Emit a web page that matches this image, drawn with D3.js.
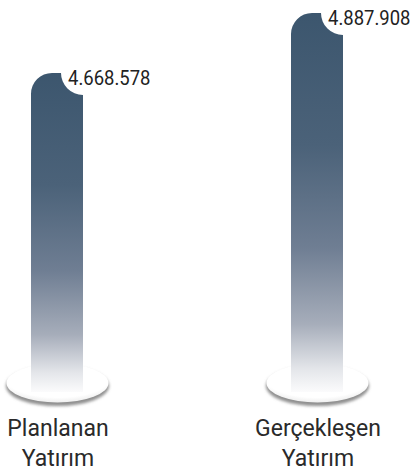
<!DOCTYPE html>
<html>
<head>
<meta charset="utf-8">
<script src="https://cdn.jsdelivr.net/npm/d3@7"></script>
<style>
  html, body { margin: 0; padding: 0; background: #ffffff; }
  svg { display: block; }
</style>
</head>
<body>
<svg id="chart" width="417" height="472"></svg>
<script>
// ---- data ----
const categories = ["Planlanan Yatırım", "Gerçekleşen Yatırım"];
const categoryLines = [["Planlanan", "Yatırım"], ["Gerçekleşen", "Yatırım"]];
const values = [4668578, 4887908];
const yDomain = [3500000, 4887908];

// ---- layout ----
const svg = d3.select("#chart");
const defs = svg.append("defs");

const x = d3.scaleBand()
  .domain(categories)
  .range([5, 369])
  .paddingInner(0.8)
  .paddingOuter(0.1);

const y = d3.scaleLinear()
  .domain(yDomain)
  .range([392, 13]);

const trFmt = d3.formatLocale({ decimal: ",", thousands: ".", grouping: [3], currency: ["₺", ""] }).format(",d");

// gradient for bars
const grad = defs.append("linearGradient")
  .attr("id", "barGrad").attr("x1", 0).attr("y1", 0).attr("x2", 0).attr("y2", 1);
[[0, "#3c566e"], [0.35, "#4b6279"], [0.62, "#6f7e93"], [0.82, "#a6adba"], [0.94, "#e4e6ea"], [1, "#fbfbfc"]]
  .forEach(([o, c]) => grad.append("stop").attr("offset", o).attr("stop-color", c));

// blur for plate shadow
defs.append("filter").attr("id", "blur").attr("x", "-20%").attr("y", "-50%").attr("width", "140%").attr("height", "200%")
  .append("feGaussianBlur").attr("stdDeviation", 1.8);

const plateGrad = defs.append("radialGradient")
  .attr("id", "plateGrad").attr("cx", "50%").attr("cy", "35%").attr("r", "65%");
[[0, "#ffffff"], [0.8, "#ffffff"], [1, "#eeeeee"]]
  .forEach(([o, c]) => plateGrad.append("stop").attr("offset", o).attr("stop-color", c));

const plateCy = 383, plateRx = 51.5, plateRy = 20;

const g = svg.append("g");

// plates
const plates = g.selectAll("g.plate").data(categories).join("g").attr("class", "plate");
plates.append("ellipse")
  .attr("cx", d => x(d) + x.bandwidth() / 2 + 0.5)
  .attr("cy", plateCy + 3)
  .attr("rx", plateRx)
  .attr("ry", plateRy)
  .attr("fill", "#8f8f8f")
  .attr("filter", "url(#blur)");
plates.append("ellipse")
  .attr("cx", d => x(d) + x.bandwidth() / 2 + 0.5)
  .attr("cy", plateCy)
  .attr("rx", plateRx - 0.5)
  .attr("ry", plateRy - 0.5)
  .attr("fill", "url(#plateGrad)");

// bars
const r1 = 21, r2 = 22;
function barPath(x0, x1, top, bot) {
  return `M${x0},${bot} L${x0},${top + r1} A${r1},${r1} 0 0 1 ${x0 + r1},${top} ` +
         `L${x1 - r2},${top} A${r2},${r2} 0 0 0 ${x1},${top + r2} L${x1},${bot} Z`;
}
g.selectAll("path.bar").data(values).join("path")
  .attr("class", "bar")
  .attr("d", (v, i) => {
    const x0 = x(categories[i]);
    return barPath(x0, x0 + x.bandwidth(), y(v), y(yDomain[0]));
  })
  .attr("fill", "url(#barGrad)");

// value labels (horizontally condensed)
g.selectAll("text.val").data(values).join("text")
  .attr("class", "val")
  .attr("transform", (v, i) => `translate(${x(categories[i]) + x.bandwidth() - 15},${y(v) + 12}) scale(0.88,1)`)
  .attr("font-family", "Roboto, 'Noto Sans', sans-serif")
  .attr("font-size", 21)
  .attr("fill", "#222222")
  .text(v => trFmt(v));

// category labels
const cat = g.selectAll("text.cat").data(categories).join("text")
  .attr("class", "cat")
  .attr("x", d => x(d) + x.bandwidth() / 2 + 1)
  .attr("y", 436)
  .attr("text-anchor", "middle")
  .attr("font-family", "Roboto, 'Noto Sans', sans-serif")
  .attr("font-size", 23)
  .attr("fill", "#2a2a2a");
cat.selectAll("tspan").data((d, i) => categoryLines[i]).join("tspan")
  .attr("x", function () { return d3.select(this.parentNode).attr("x"); })
  .attr("dy", (d, j) => j === 0 ? 0 : 30)
  .text(d => d);
</script>
</body>
</html>
